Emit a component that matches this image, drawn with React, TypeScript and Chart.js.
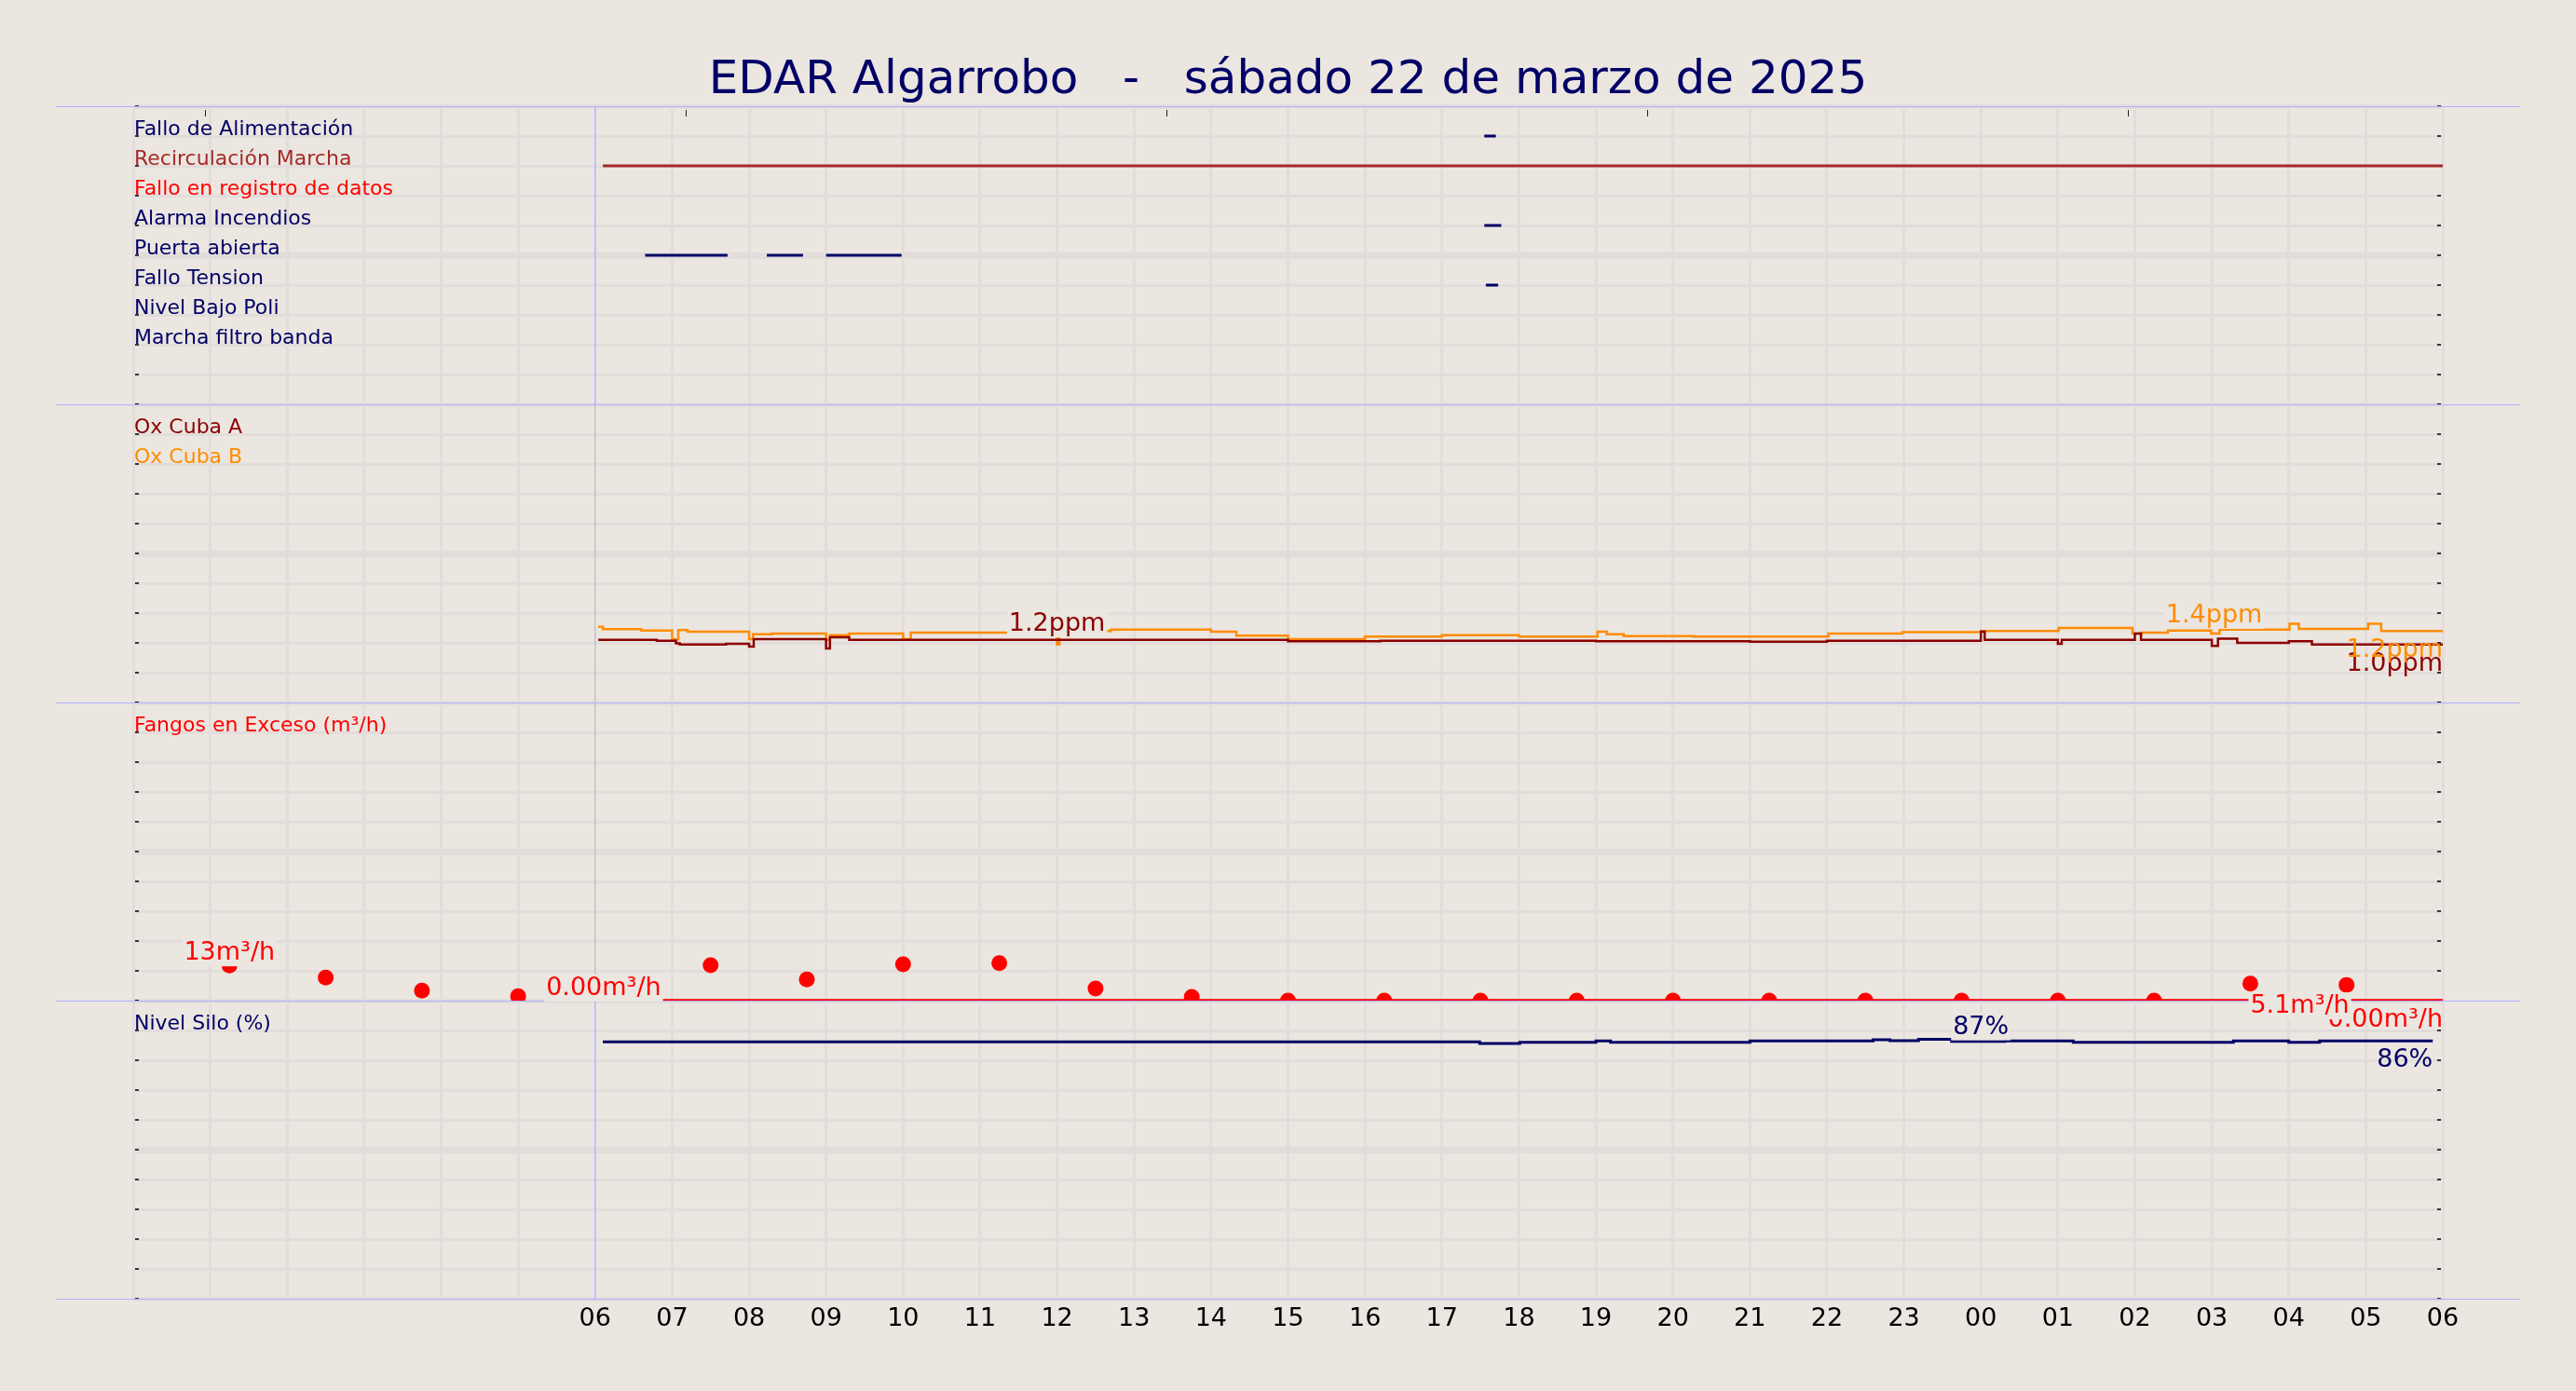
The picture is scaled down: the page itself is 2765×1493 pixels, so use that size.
import React, { useEffect, useRef } from 'react';
import Chart from 'chart.js/auto';

const FONT = 'DejaVu Sans';
const BG = '#ebe6e0';
const GRID = '#e2dddb';
const EDGE = '#b0b0ff';
const NAVY = '#000066';
const RED = '#ff0000';
const DARKRED = '#8b0000';
const ORANGE = '#ff8c00';
const BROWN = '#a52a2a';

const TITLE = 'EDAR Algarrobo   -   sábado 22 de marzo de 2025';

// x axis: hours since 00:00 of the 22nd, labelled from 06 onwards
const firstLabelledHour = 6;
const hourLabels = [
  '06', '07', '08', '09', '10', '11', '12', '13', '14', '15', '16', '17', '18',
  '19', '20', '21', '22', '23', '00', '01', '02', '03', '04', '05', '06',
];
const topTickHours = [0.93, 7.18, 13.42, 19.67, 25.91];

// panel 1 - digital signals, [start, end] in hours
const signalNames = [
  'Fallo de Alimentación', 'Recirculación Marcha', 'Fallo en registro de datos', 'Alarma Incendios',
  'Puerta abierta', 'Fallo Tension', 'Nivel Bajo Poli', 'Marcha filtro banda',
];
const signalColors = [NAVY, BROWN, RED, NAVY, NAVY, NAVY, NAVY, NAVY];
const falloAlimentacion = [[17.55, 17.7]];
const recirculacionMarcha = [[6.1, 30]];
const falloRegistro: number[][] = [];
const alarmaIncendios = [[17.55, 17.77]];
const puertaAbierta = [[6.65, 7.72], [8.23, 8.7], [9.0, 9.98]];
const falloTension = [[17.57, 17.73]];
const nivelBajoPoli: number[][] = [];
const marchaFiltro: number[][] = [];
const signalIntervals = [
  falloAlimentacion, recirculacionMarcha, falloRegistro, alarmaIncendios,
  puertaAbierta, falloTension, nivelBajoPoli, marchaFiltro,
];

// panel 2 - oxygen (ppm), [hour, value]
const oxCubaA = [
  [6.04, 1.12], [6.8, 1.1], [7.05, 1.04], [7.1, 1.01], [7.7, 1.03], [8.0, 0.96], [8.06, 1.14],
  [9.0, 0.92], [9.05, 1.18], [9.3, 1.12], [14.33, 1.12], [15.0, 1.09], [16.2, 1.1], [19.0, 1.09],
  [21.0, 1.08], [22.0, 1.1], [24.0, 1.31], [24.05, 1.12], [25.0, 1.03], [25.05, 1.12], [26.0, 1.27],
  [26.08, 1.12], [27.0, 0.98], [27.08, 1.15], [27.33, 1.05], [28.0, 1.09], [28.3, 1.01], [30.0, 1.01],
];
const oxCubaB = [
  [6.04, 1.43], [6.1, 1.37], [6.6, 1.34], [7.0, 1.13], [7.08, 1.35], [7.2, 1.31], [8.0, 1.14],
  [8.05, 1.25], [8.3, 1.27], [9.0, 1.12], [9.05, 1.23], [9.3, 1.27], [10.0, 1.14], [10.1, 1.29],
  [12.0, 1.01], [12.03, 1.33], [12.7, 1.36], [14.0, 1.31], [14.33, 1.22], [15.0, 1.14], [16.0, 1.2],
  [17.0, 1.23], [18.0, 1.2], [19.02, 1.31], [19.14, 1.25], [19.36, 1.21], [20.27, 1.2], [22.02, 1.27],
  [22.98, 1.3], [24.0, 1.33], [25.01, 1.4], [25.97, 1.27], [26.09, 1.29], [26.43, 1.34], [26.99, 1.27],
  [27.1, 1.36], [28.01, 1.5], [28.13, 1.38], [29.03, 1.5], [29.2, 1.33], [30.0, 1.33],
];

// panel 3 - excess sludge (m³/h)
const fangosHours = [
  1.25, 2.5, 3.75, 5.0, 6.25, 7.5, 8.75, 10.0, 11.25, 12.5, 13.75, 15.0, 16.25, 17.5,
  18.75, 20.0, 21.25, 22.5, 23.75, 25.0, 26.25, 27.5, 28.75,
];
const fangosValues = [
  13, 8.5, 3.7, 1.6, 2.0, 13.1, 7.8, 13.4, 13.8, 4.5, 1.4, 0, 0, 0,
  0, 0, 0, 0, 0, 0, 0, 6.3, 5.8,
];
const fangosLine = [[6.1, 0], [30.0, 0]];

// panel 4 - silo level (%)
const nivelSilo = [
  [6.1, 86.2], [17.49, 85.6], [18.01, 86.0], [19.0, 86.5], [19.19, 86.0], [21.0, 86.5],
  [22.6, 86.9], [22.82, 86.6], [23.19, 87.0], [23.62, 86.3], [24.31, 86.5], [25.2, 86.0],
  [27.28, 86.5], [28.0, 86.0], [28.4, 86.5], [29.87, 86.5],
];

// value annotations, in drawing order: [axis, hour, value, text, color, placement, align, boxed]
const valueLabels: [string, number, number, string, string, string, string, boolean][] = [
  ['y2', 30, 1.01, '1.0ppm', DARKRED, 'below', 'right', false],
  ['y2', 30, 1.33, '1.2ppm', ORANGE, 'below', 'right', false],
  ['y2', 12.0, 1.2, '1.2ppm', DARKRED, 'above', 'center', true],
  ['y2', 27.03, 1.4, '1.4ppm', ORANGE, 'above', 'center', true],
  ['y3', 30, 0, '0.00m³/h', RED, 'below', 'right', false],
  ['y3', 1.25, 13, '13m³/h', RED, 'above', 'center', true],
  ['y3', 6.11, 0, '0.00m³/h', RED, 'above', 'center', true],
  ['y3', 27.5, 5.1, '5.1m³/h', RED, 'below', 'left', true],
  ['y4', 24.0, 87, '87%', NAVY, 'above', 'center', true],
  ['y4', 29.87, 86.5, '86%', NAVY, 'below', 'right', false],
];

const panelIds = ['y1', 'y2', 'y3', 'y4'];
const panelMarkerColors = ['#b4b4ff', '#c4c4c4', '#c4c4c4', '#b4b4ff'];
const panelLegends = [
  signalNames.map((n, i) => [n, signalColors[i]]),
  [['Ox Cuba A', DARKRED], ['Ox Cuba B', ORANGE]],
  [['Fangos en Exceso (m³/h)', RED]],
  [['Nivel Silo (%)', NAVY]],
];

const toPoints = (rows: number[][]) => rows.map(([x, y]) => ({ x, y }));

function segments(intervals: number[][], level: number) {
  const out: { x: number; y: number | null }[] = [];
  intervals.forEach(([s, e]) => {
    out.push({ x: s, y: level }, { x: e, y: level }, { x: e, y: null });
  });
  return out;
}

function panelAxis(min: number, max: number, weight: number) {
  return {
    type: 'linear',
    position: 'left',
    stack: 'panels',
    stackWeight: 1,
    weight,
    min,
    max,
    afterBuildTicks: (s: any) => {
      s.ticks = Array.from({ length: 11 }, (_, i) => ({ value: min + ((max - min) * i) / 10 }));
    },
    afterFit: (s: any) => {
      s.width = 0;
    },
    ticks: { display: false },
    grid: {
      color: GRID,
      lineWidth: (c: any) => (c.index === 5 ? 7 : c.index === 0 || c.index === 10 ? 5 : 3),
      drawTicks: false,
    },
    border: { display: false },
  };
}

const decor = {
  id: 'decor',
  beforeDatasetsDraw(chart: any) {
    const { ctx, chartArea, scales } = chart;
    const x = scales.x;
    ctx.save();
    panelIds.forEach((id, i) => {
      const s = scales[id];
      const px = x.getPixelForValue(firstLabelledHour);
      ctx.strokeStyle = panelMarkerColors[i];
      ctx.lineWidth = 1.5;
      ctx.beginPath();
      ctx.moveTo(px, s.top);
      ctx.lineTo(px, s.bottom);
      ctx.stroke();

      ctx.fillStyle = '#000';
      s.ticks.forEach((t: any) => {
        const py = s.getPixelForValue(t.value);
        ctx.fillRect(chartArea.left + 2, py - 0.75, 4, 1.5);
        ctx.fillRect(chartArea.right - 6, py - 0.75, 4, 1.5);
      });

      const step = (s.max - s.min) / 10;
      ctx.font = `22px ${FONT}`;
      ctx.textAlign = 'left';
      ctx.textBaseline = 'alphabetic';
      panelLegends[i].forEach(([text, color], k) => {
        ctx.fillStyle = color;
        ctx.fillText(text, chartArea.left + 1, s.getPixelForValue(s.max - (k + 1) * step) - 1);
      });
    });

    ctx.strokeStyle = '#222';
    ctx.lineWidth = 1;
    topTickHours.forEach((h) => {
      const px = Math.round(x.getPixelForValue(h)) + 0.5;
      ctx.beginPath();
      ctx.moveTo(px, chartArea.top + 4);
      ctx.lineTo(px, chartArea.top + 11);
      ctx.stroke();
    });
    ctx.restore();
  },
  afterDatasetsDraw(chart: any) {
    const { ctx, chartArea, scales } = chart;
    const x = scales.x;
    ctx.save();

    ctx.strokeStyle = EDGE;
    ctx.lineWidth = 1;
    const edges = panelIds.map((id) => scales[id].top).concat([scales.y4.bottom]);
    edges.forEach((py) => {
      const y = Math.round(py) + 0.5;
      ctx.beginPath();
      ctx.moveTo(chartArea.left - 83, y);
      ctx.lineTo(chartArea.right + 83, y);
      ctx.stroke();
    });

    ctx.font = `27px ${FONT}`;
    ctx.textAlign = 'left';
    ctx.textBaseline = 'alphabetic';
    valueLabels.forEach(([axis, hour, value, text, color, place, align, boxed]) => {
      const ax = x.getPixelForValue(hour);
      const ay = scales[axis].getPixelForValue(value);
      const w = ctx.measureText(text).width;
      const base = place === 'above' ? ay - 6 : ay + 28;
      const left = align === 'center' ? ax - w / 2 : align === 'right' ? ax - w : ax;
      if (boxed) {
        ctx.fillStyle = BG;
        ctx.fillRect(left - 2, base - 22, w + 4, 29);
      }
      ctx.fillStyle = color;
      ctx.fillText(text, left, base);
    });

    ctx.font = `50px ${FONT}`;
    ctx.textAlign = 'center';
    ctx.fillStyle = NAVY;
    ctx.fillText(TITLE, chart.width / 2, 100);
    ctx.restore();
  },
};

export default function App() {
  const canvasRef = useRef<HTMLCanvasElement>(null);
  const chartRef = useRef<Chart | null>(null);

  useEffect(() => {
    document.body.style.margin = '0';
    if (!canvasRef.current) return;
    if (chartRef.current) chartRef.current.destroy();

    const signalSets = signalIntervals.map((iv, k) => ({
      label: signalNames[k],
      data: segments(iv, 9 - k),
      yAxisID: 'y1',
      borderColor: signalColors[k],
      borderWidth: 3,
      pointRadius: 0,
      spanGaps: false,
    }));

    chartRef.current = new Chart(canvasRef.current, {
      type: 'line',
      data: {
        datasets: [
          ...signalSets,
          {
            label: 'Ox Cuba A',
            data: toPoints(oxCubaA),
            yAxisID: 'y2',
            borderColor: DARKRED,
            borderWidth: 2.5,
            stepped: true,
            pointRadius: 0,
          },
          {
            label: 'Ox Cuba B',
            data: toPoints(oxCubaB),
            yAxisID: 'y2',
            borderColor: ORANGE,
            borderWidth: 2.5,
            stepped: true,
            pointRadius: 0,
          },
          {
            label: 'Fangos en Exceso',
            data: fangosHours.map((h, i) => ({ x: h, y: fangosValues[i] })),
            yAxisID: 'y3',
            showLine: false,
            pointRadius: 8.5,
            pointBackgroundColor: RED,
            pointBorderWidth: 0,
          },
          {
            label: 'Fangos línea',
            data: toPoints(fangosLine),
            yAxisID: 'y3',
            borderColor: RED,
            borderWidth: 3.5,
            pointRadius: 0,
          },
          {
            label: 'Nivel Silo (%)',
            data: toPoints(nivelSilo),
            yAxisID: 'y4',
            borderColor: NAVY,
            borderWidth: 3,
            stepped: true,
            pointRadius: 0,
          },
        ],
      } as any,
      options: {
        animation: false,
        responsive: false,
        devicePixelRatio: 1,
        events: [],
        layout: { padding: { left: 143, right: 143, top: 114, bottom: 0 } },
        plugins: {
          legend: { display: false },
          title: { display: false },
          tooltip: { enabled: false },
        },
        scales: {
          x: {
            type: 'linear',
            position: 'bottom',
            min: 0,
            max: 30,
            afterBuildTicks: (s: any) => {
              s.ticks = Array.from({ length: 31 }, (_, h) => ({ value: h }));
            },
            afterFit: (s: any) => {
              s.height = 99;
            },
            ticks: {
              autoSkip: false,
              maxRotation: 0,
              minRotation: 0,
              padding: 6,
              color: '#000',
              font: { family: FONT, size: 27 },
              callback: (v: any) => {
                const h = Number(v);
                return h >= firstLabelledHour ? hourLabels[h - firstLabelledHour] : '';
              },
            },
            grid: {
              color: (c: any) => (c.tick && c.tick.value === firstLabelledHour ? 'rgba(0,0,0,0)' : GRID),
              lineWidth: 3,
              drawTicks: false,
            },
            border: { display: false },
          },
          y1: panelAxis(0, 10, 4),
          y2: panelAxis(-0.35, 6.65, 3),
          y3: panelAxis(0, 110, 2),
          y4: panelAxis(0, 100, 1),
        } as any,
      },
      plugins: [decor],
    });

    return () => {
      if (chartRef.current) {
        chartRef.current.destroy();
        chartRef.current = null;
      }
    };
  }, []);

  return (
    <div style={{ position: 'absolute', left: 0, top: 0, width: 2765, height: 1493, background: BG }}>
      <canvas ref={canvasRef} width={2765} height={1493} style={{ display: 'block' }}></canvas>
    </div>
  );
}
